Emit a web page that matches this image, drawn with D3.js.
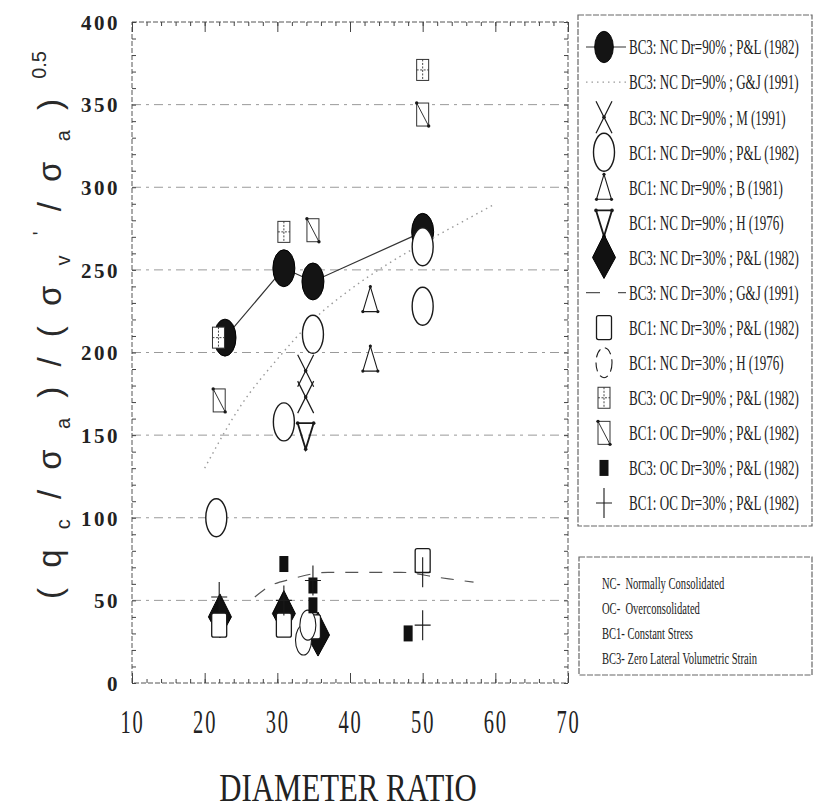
<!DOCTYPE html>
<html>
<head>
<meta charset="utf-8">
<script src="https://cdn.jsdelivr.net/npm/d3@7"></script>
<style>
  body { margin: 0; background: #fff; }
  svg { display: block; }
</style>
</head>
<body>
<svg id="chart" width="814" height="811"></svg>
<script>
// ---- axis ticks ----
const xTickValues = [10, 20, 30, 40, 50, 60, 70];
const yTickValues = [0, 50, 100, 150, 200, 250, 300, 350, 400];
const yGridValues = [50, 100, 150, 200, 250, 300, 350];

// ---- series (diameter ratio, normalised tip resistance) ----
const bc3Nc90PlX = [22.8, 30.9, 34.9, 50];
const bc3Nc90PlY = [209, 251, 243, 273];

const bc3Nc90GjX = [20, 25, 30, 35, 40, 45, 50, 55, 60];
const bc3Nc90GjY = [130, 168, 196, 220, 238, 253, 266, 278, 290];

const bc3Nc90MX = [33.9, 33.9];
const bc3Nc90MY = [189, 173];

const bc1Nc90PlX = [21.6, 30.9, 34.9, 50, 50];
const bc1Nc90PlY = [100, 158, 211, 264, 228];

const bc1Nc90BX = [42.8, 42.8];
const bc1Nc90BY = [232, 196];

const bc1Nc90HX = [33.9];
const bc1Nc90HY = [150];

const bc3Nc30PlX = [22.1, 30.9, 35.6];
const bc3Nc30PlY = [40, 42, 29];

const bc3Nc30GjX = [26.9, 28.7, 32, 37, 42, 47, 52, 57];
const bc3Nc30GjY = [52, 58, 63, 67, 67, 67, 64, 61];

const bc1Nc30PlX = [22, 30.9, 34.9, 50];
const bc1Nc30PlY = [35, 35, 34, 74];

const bc1Nc30HX = [33.6, 34.2];
const bc1Nc30HY = [26, 35];

const bc3Oc90PlX = [21.9, 30.9, 50];
const bc3Oc90PlY = [209, 273, 371];

const bc1Oc90PlX = [22, 34.9, 50];
const bc1Oc90PlY = [171, 274, 344];

const bc3Oc30PlX = [30.9, 34.9, 34.9, 48];
const bc3Oc30PlY = [72, 59, 47, 30];

const bc1Oc30PlX = [22, 30.9, 34.9, 50, 50];
const bc1Oc30PlY = [52, 50, 62, 67, 35];

const legendLabels = [
  "BC3: NC Dr=90% ; P&L (1982)",
  "BC3: NC Dr=90% ; G&J (1991)",
  "BC3: NC Dr=90% ; M (1991)",
  "BC1: NC Dr=90% ; P&L (1982)",
  "BC1: NC Dr=90% ; B (1981)",
  "BC1: NC Dr=90% ; H (1976)",
  "BC3: NC Dr=30% ; P&L (1982)",
  "BC3: NC Dr=30% ; G&J (1991)",
  "BC1: NC Dr=30% ; P&L (1982)",
  "BC1: NC Dr=30% ; H (1976)",
  "BC3: OC Dr=90% ; P&L (1982)",
  "BC1: OC Dr=90% ; P&L (1982)",
  "BC3: OC Dr=30% ; P&L (1982)",
  "BC1: OC Dr=30% ; P&L (1982)"
];

const noteLabels = [
  "NC-  Normally Consolidated",
  "OC-  Overconsolidated",
  "BC1- Constant Stress",
  "BC3- Zero Lateral Volumetric Strain"
];

const xTitle = "DIAMETER RATIO";

// ---- layout ----
const svg = d3.select("#chart");
const plot = { left: 132, right: 568, top: 22, bottom: 683 };
const x = d3.scaleLinear().domain([10, 70]).range([plot.left, plot.right]);
const y = d3.scaleLinear().domain([0, 400]).range([plot.bottom, plot.top]);

const ink = "#1a1a1a";
const serif = "'Liberation Serif', 'DejaVu Serif', serif";
const sans = "'Liberation Sans', Arial, sans-serif";

// ---- marker glyphs, drawn around (0,0) ----
const glyphs = {
  filledEllipse: g => g.append("ellipse").attr("rx", 11).attr("ry", 18.5)
      .attr("fill", "#141414").attr("stroke", "#000").attr("stroke-width", 1),
  cross: g => {
    g.append("path").attr("d", "M-8,-16L8,16M8,-16L-8,16")
      .attr("fill", "none").attr("stroke", ink).attr("stroke-width", 1.2);
    g.append("circle").attr("r", 1.8).attr("fill", ink);
  },
  openEllipse: g => g.append("ellipse").attr("rx", 10.5).attr("ry", 19)
      .attr("fill", "#fff").attr("stroke", ink).attr("stroke-width", 1.4),
  triUp: g => {
    g.append("path").attr("d", "M0,-13L7.5,12L-7.5,12Z")
      .attr("fill", "none").attr("stroke", ink).attr("stroke-width", 1.1);
    [[0, -13], [7.5, 12], [-7.5, 12]].forEach(p =>
      g.append("circle").attr("cx", p[0]).attr("cy", p[1]).attr("r", 1.6).attr("fill", ink));
  },
  triDown: g => {
    g.append("path").attr("d", "M-8,-12L8,-12L0,14Z")
      .attr("fill", "none").attr("stroke", ink).attr("stroke-width", 1.8);
    [[-8, -12], [8, -12], [0, 14]].forEach(p =>
      g.append("circle").attr("cx", p[0]).attr("cy", p[1]).attr("r", 1.8).attr("fill", ink));
  },
  filledDiamond: g => g.append("path").attr("d", "M0,-23L11.5,0L0,21L-11.5,0Z")
      .attr("fill", "#111").attr("stroke", "#000").attr("stroke-width", 1),
  openRect: g => g.append("rect").attr("x", -7.5).attr("y", -12).attr("width", 15).attr("height", 24)
      .attr("rx", 2).attr("fill", "#fff").attr("stroke", ink).attr("stroke-width", 1.3),
  smallEllipse: g => g.append("ellipse").attr("rx", 8).attr("ry", 15)
      .attr("fill", "#fff").attr("stroke", ink).attr("stroke-width", 1.1),
  rectPlus: g => {
    g.append("rect").attr("x", -6).attr("y", -10.5).attr("width", 12).attr("height", 21)
      .attr("fill", "#fff").attr("stroke", "#333").attr("stroke-width", 1);
    g.append("path").attr("d", "M0,-10.5V10.5M-6,0H6")
      .attr("stroke", "#333").attr("stroke-width", 0.9).attr("stroke-dasharray", "2,1.5");
  },
  rectDiag: g => {
    g.append("rect").attr("x", -6).attr("y", -11.5).attr("width", 12).attr("height", 23)
      .attr("fill", "#fff").attr("stroke", "#333").attr("stroke-width", 1);
    g.append("path").attr("d", "M-6,-11.5L6,11.5").attr("stroke", "#333").attr("stroke-width", 1);
    [[-6, -11.5], [6, 11.5]].forEach(p =>
      g.append("circle").attr("cx", p[0]).attr("cy", p[1]).attr("r", 1.7).attr("fill", ink));
  },
  filledRect: g => g.append("rect").attr("x", -4.5).attr("y", -8).attr("width", 9).attr("height", 16)
      .attr("fill", "#111"),
  plus: g => g.append("path").attr("d", "M0,-15V15M-8,0H8")
      .attr("fill", "none").attr("stroke", ink).attr("stroke-width", 1.1)
};

// ---- frame and gridlines ----
const frame = svg.append("g");
frame.selectAll("line.grid").data(yGridValues).join("line")
  .attr("class", "grid")
  .attr("x1", plot.left).attr("x2", plot.right)
  .attr("y1", d => y(d)).attr("y2", d => y(d))
  .attr("stroke", "#9a9a9a").attr("stroke-width", 1).attr("stroke-dasharray", "9,5,3,5");

frame.append("rect")
  .attr("x", plot.left).attr("y", plot.top)
  .attr("width", plot.right - plot.left).attr("height", plot.bottom - plot.top)
  .attr("fill", "none").attr("stroke", "#555").attr("stroke-width", 1).attr("stroke-dasharray", "5,2");

// inward ticks on all four sides
const xMinor = d3.range(10, 70.01, 2);
const yMinor = d3.range(0, 400.01, 10);
function styleAxis(g) {
  g.select(".domain").remove();
  g.selectAll(".tick line").attr("stroke", "#444").attr("stroke-width", 1);
  g.selectAll("text").remove();
}
svg.append("g").attr("transform", `translate(0,${plot.bottom})`)
  .call(d3.axisBottom(x).tickValues(xMinor).tickSize(-4)).call(styleAxis);
svg.append("g").attr("transform", `translate(0,${plot.bottom})`)
  .call(d3.axisBottom(x).tickValues(xTickValues).tickSize(-10)).call(styleAxis);
svg.append("g").attr("transform", `translate(0,${plot.top})`)
  .call(d3.axisTop(x).tickValues(xMinor).tickSize(-4)).call(styleAxis);
svg.append("g").attr("transform", `translate(0,${plot.top})`)
  .call(d3.axisTop(x).tickValues(xTickValues).tickSize(-10)).call(styleAxis);
svg.append("g").attr("transform", `translate(${plot.left},0)`)
  .call(d3.axisLeft(y).tickValues(yMinor).tickSize(-4)).call(styleAxis);
svg.append("g").attr("transform", `translate(${plot.right},0)`)
  .call(d3.axisRight(y).tickValues(yMinor).tickSize(-4)).call(styleAxis);

// ---- tick labels ----
svg.append("g").attr("transform", `translate(${plot.left - 12},0)`)
  .call(d3.axisLeft(y).tickValues(yTickValues).tickSize(0).tickPadding(0))
  .call(g => g.select(".domain").remove())
  .call(g => g.selectAll("text")
    .attr("font-family", serif).attr("font-weight", "bold").attr("font-size", 21)
    .attr("letter-spacing", 2.5).attr("fill", "#222").attr("dy", "0.35em"));

svg.append("g").attr("transform", `translate(0,${plot.bottom + 38})`)
  .call(d3.axisBottom(x).tickValues(xTickValues).tickSize(0).tickPadding(0))
  .call(g => g.select(".domain").remove())
  .call(g => g.selectAll("text")
    .attr("font-family", serif).attr("font-size", 33).attr("fill", "#222")
    .attr("letter-spacing", 3)
    .attr("y", 0).attr("dy", "0.35em")
    .attr("transform", "scale(0.62,1)"));

svg.append("text")
  .attr("transform", `translate(${x(40) - 2},801) scale(0.77,1)`)
  .attr("text-anchor", "middle")
  .attr("font-family", serif).attr("font-size", 40).attr("fill", "#222")
  .text(xTitle);

// y-axis title with sub/superscripts; glyph spacing stretched to fill its span
const yTitle = svg.append("text")
  .attr("font-family", sans).attr("font-size", 33).attr("fill", "#2a2a2a")
  .attr("text-anchor", "middle");
const parts = [
  ["(", 0, 33], ["q", 0, 33], ["c", 9, 20], ["/", -9, 33], ["σ", 0, 33], ["a", 9, 20],
  [")/(", -9, 33], ["σ", 0, 33], ["v", 9, 20], ["'", -23, 20], ["/", 14, 33], ["σ", 0, 33],
  ["a", 9, 20], [")", -9, 33], ["0.5", -15, 20]
];
const spans = parts.map(p => yTitle.append("tspan").attr("dy", p[1]).attr("font-size", p[2]).text(p[0]));
const titleSpan = 548;
const spacedCount = parts.slice(0, -1).reduce((n, p) => n + p[0].length, 0);
const bareLen = yTitle.node().getComputedTextLength();
const gap = Math.max(0, (titleSpan - bareLen) / spacedCount);
spans.slice(0, -1).forEach(s => s.attr("letter-spacing", gap));
yTitle.attr("transform", `translate(61,${(46 + 600) / 2 + 2}) rotate(-90)`);

// ---- data series ----
const layer = svg.append("g");
function pts(xs, ys) { return xs.map((v, i) => [x(v), y(ys[i])]); }
function drawMarkers(xs, ys, kind) {
  layer.append("g").selectAll("g").data(pts(xs, ys)).join("g")
    .attr("transform", d => `translate(${d[0]},${d[1]})`)
    .each(function () { glyphs[kind](d3.select(this)); });
}
function drawLine(xs, ys, style, curve) {
  layer.append("path").datum(pts(xs, ys))
    .attr("d", d3.line().curve(curve || d3.curveLinear))
    .attr("fill", "none").attr("stroke", style.stroke).attr("stroke-width", style.width)
    .attr("stroke-dasharray", style.dash || null);
}

const solidStyle = { stroke: "#333", width: 1.2 };
const dottedStyle = { stroke: "#9a9a9a", width: 1.4, dash: "1.5,4" };
const dashedStyle = { stroke: "#555", width: 1.2, dash: "13,11" };

drawLine(bc3Nc90PlX, bc3Nc90PlY, solidStyle);
drawMarkers(bc3Nc90PlX, bc3Nc90PlY, "filledEllipse");
drawLine(bc3Nc90GjX, bc3Nc90GjY, dottedStyle, d3.curveMonotoneX);
drawMarkers(bc3Nc90MX, bc3Nc90MY, "cross");
drawMarkers(bc1Nc90PlX, bc1Nc90PlY, "openEllipse");
drawMarkers(bc1Nc90BX, bc1Nc90BY, "triUp");
drawMarkers(bc1Nc90HX, bc1Nc90HY, "triDown");
drawMarkers(bc3Nc30PlX, bc3Nc30PlY, "filledDiamond");
drawLine(bc3Nc30GjX, bc3Nc30GjY, dashedStyle, d3.curveMonotoneX);
drawMarkers(bc1Nc30PlX, bc1Nc30PlY, "openRect");
drawMarkers(bc1Nc30HX, bc1Nc30HY, "smallEllipse");
drawMarkers(bc3Oc90PlX, bc3Oc90PlY, "rectPlus");
drawMarkers(bc1Oc90PlX, bc1Oc90PlY, "rectDiag");
drawMarkers(bc3Oc30PlX, bc3Oc30PlY, "filledRect");
drawMarkers(bc1Oc30PlX, bc1Oc30PlY, "plus");

// ---- legend ----
const legendBox = { x: 578, y: 15, w: 234, h: 511 };
svg.append("rect").attr("x", legendBox.x).attr("y", legendBox.y)
  .attr("width", legendBox.w).attr("height", legendBox.h)
  .attr("fill", "none").attr("stroke", "#666").attr("stroke-width", 1.2).attr("stroke-dasharray", "6,1.5");

const legendKinds = [
  { line: solidStyle, glyph: "filledEllipse" },
  { line: dottedStyle },
  { glyph: "cross" },
  { glyph: "openEllipse" },
  { glyph: "triUp" },
  { glyph: "triDown" },
  { glyph: "filledDiamond" },
  { line: dashedStyle },
  { glyph: "openRect" },
  { glyph: "smallEllipse", dash: true },
  { glyph: "rectPlus" },
  { glyph: "rectDiag" },
  { glyph: "filledRect" },
  { glyph: "plus" }
];
const rowY = d3.scalePoint().domain(d3.range(legendLabels.length)).range([47, 503]);
const rows = svg.append("g").selectAll("g").data(legendLabels).join("g")
  .attr("transform", (d, i) => `translate(604,${rowY(i)})`);
rows.each(function (d, i) {
  const g = d3.select(this);
  const k = legendKinds[i];
  if (k.line) {
    g.append("line").attr("x1", -18).attr("x2", 22).attr("y1", 0).attr("y2", 0)
      .attr("stroke", k.line.stroke).attr("stroke-width", k.line.width)
      .attr("stroke-dasharray", k.line === dashedStyle ? "14,18" : (k.line.dash || null));
  }
  if (k.glyph) {
    const s = g.append("g").attr("transform", i === 0 ? "scale(0.85)" : null);
    glyphs[k.glyph](s);
    if (k.dash) s.selectAll("ellipse").attr("stroke-dasharray", "9,5");
  }
  g.append("text")
    .attr("transform", "translate(25,0) scale(0.62,1)")
    .attr("dy", "0.35em")
    .attr("font-family", serif).attr("font-size", 21).attr("fill", "#222")
    .text(d);
});

// ---- abbreviation notes ----
const noteBox = { x: 579, y: 557, w: 233, h: 118 };
svg.append("rect").attr("x", noteBox.x).attr("y", noteBox.y)
  .attr("width", noteBox.w).attr("height", noteBox.h)
  .attr("fill", "none").attr("stroke", "#666").attr("stroke-width", 1.2).attr("stroke-dasharray", "6,1.5");
svg.append("g").selectAll("text").data(noteLabels).join("text")
  .attr("transform", (d, i) => `translate(602,${583 + i * 25}) scale(0.66,1)`)
  .attr("dy", "0.35em")
  .attr("font-family", serif).attr("font-size", 16).attr("fill", "#222")
  .attr("xml:space", "preserve")
  .text(d => d);
</script>
</body>
</html>
